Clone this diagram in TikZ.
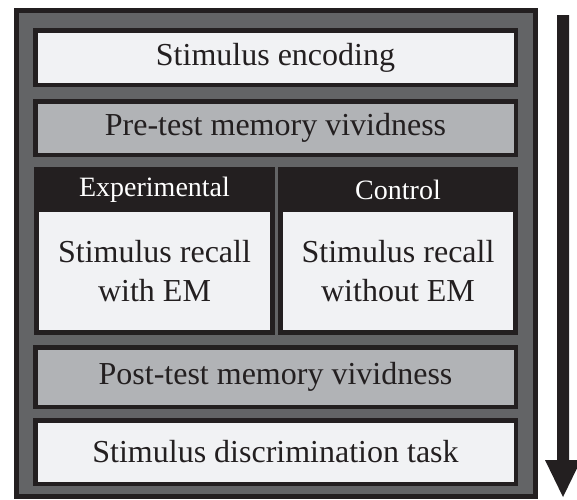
\documentclass[tikz,border=0pt]{standalone}
\usepackage{fontspec}
\setmainfont{Liberation Serif}
\definecolor{ink}{HTML}{231F20}
\definecolor{slate}{HTML}{636466}
\definecolor{paper}{HTML}{F1F2F4}
\definecolor{mist}{HTML}{B1B3B6}

\begin{document}
\begin{tikzpicture}[x=1pt,y=-1pt,
  frame/.style={draw=ink, fill=slate, line width=5pt, inner sep=0pt},
  stage/.style={draw=ink, line width=4.5pt, inner sep=0pt, minimum width=480.5pt,
    text=ink, font=\fontsize{32}{39}\selectfont},
  lightstage/.style={stage, fill=paper},
  greystage/.style={stage, fill=mist},
  groupbox/.style={fill=ink, inner sep=0pt, minimum height=168pt},
  grouphead/.style={text=white, inner sep=0pt, font=\fontsize{28}{34}\selectfont},
  groupbody/.style={fill=paper, inner sep=0pt, minimum height=118pt,
    text=ink, align=center, font=\fontsize{32}{39}\selectfont},
  flowarrow/.style={fill=ink, draw=none}]

\useasboundingbox (0,0) rectangle (577,499);
\fill[white] (0,0) rectangle (577,499);

% outer frame
\node[frame, minimum width=519pt, minimum height=486pt] (outer) at (276,253.5) {};

% sequential stages
\node[lightstage, minimum height=54.5pt] (encode) at (275.5,57.5) {Stimulus encoding};
\node[greystage, minimum height=53.5pt] (pretest) at (275.5,128) {Pre-test memory vividness};

% experimental group
\node[groupbox, minimum width=241pt] (expbox) at (154.5,251) {};
\node[groupbody, minimum width=231pt] (exprecall) at (154.5,271) {Stimulus recall\\with EM};
\node[grouphead] (exphead) at (154.5,189.5) {Experimental};

% control group
\node[groupbox, minimum width=240pt] (ctlbox) at (398,251) {};
\node[groupbody, minimum width=230pt] (ctlrecall) at (398,271) {Stimulus recall\\without EM};
\node[grouphead] (ctlhead) at (398,189.5) {Control};

\node[greystage, minimum height=59.5pt] (posttest) at (275.5,377) {Post-test memory vividness};
\node[lightstage, minimum height=63.5pt] (discrim) at (275.5,452) {Stimulus discrimination task};

% time arrow
\coordinate (arrtop) at (563,15);
\coordinate (arrtip) at (563,497);
\fill[flowarrow] ([xshift=-6pt]arrtop) -- ([xshift=6pt]arrtop)
  -- ([xshift=6pt]arrtip |- 0,460) -- ([xshift=18pt]arrtip |- 0,460)
  -- (arrtip) -- ([xshift=-18pt]arrtip |- 0,460)
  -- ([xshift=-6pt]arrtip |- 0,460) -- cycle;
\end{tikzpicture}
\end{document}
